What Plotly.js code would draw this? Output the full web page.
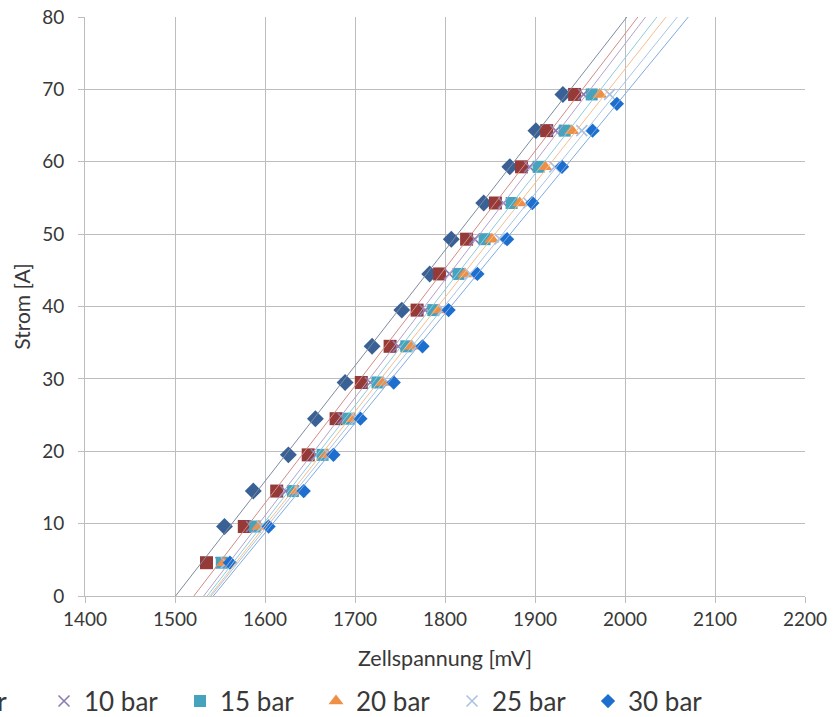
<!DOCTYPE html>
<html>
<head>
<meta charset="utf-8">
<script src="https://cdn.plot.ly/plotly-3.0.1.min.js"></script>
<style>
html,body{margin:0;padding:0;background:#fff;overflow:hidden;width:835px;height:717px;}
#chart{position:absolute;left:-300px;top:0;width:1135px;height:717px;}
</style>
</head>
<body>
<div id="chart"></div>
<script>
// Series names (legend)
const seriesNames = ['1 bar', '5 bar', '10 bar', '15 bar', '20 bar', '25 bar', '30 bar'];

// Current levels [A]
const strom_1bar  = [9.6, 14.5, 19.5, 24.5, 29.5, 34.5, 39.5, 44.5, 49.3, 54.3, 59.3, 64.3, 69.3];
const strom_5bar  = [4.6, 9.6, 14.5, 19.5, 24.5, 29.5, 34.5, 39.5, 44.5, 49.3, 54.3, 59.3, 64.3, 69.3];
const strom_10bar = [4.6, 9.6, 14.5, 19.5, 24.5, 29.5, 34.5, 39.5, 44.5, 49.3, 54.3, 59.3, 64.3, 69.3];
const strom_15bar = [4.6, 9.6, 14.5, 19.5, 24.5, 29.5, 34.5, 39.5, 44.5, 49.3, 54.3, 59.3, 64.3, 69.3];
const strom_20bar = [4.6, 9.6, 14.5, 19.5, 24.5, 29.5, 34.5, 39.5, 44.5, 49.3, 54.3, 59.3, 64.3, 69.3];
const strom_25bar = [4.6, 9.6, 14.5, 19.5, 24.5, 29.5, 34.5, 39.5, 44.5, 49.3, 54.3, 59.3, 64.3, 69.3];
const strom_30bar = [4.6, 9.6, 14.5, 19.5, 24.5, 29.5, 34.5, 39.5, 44.5, 49.3, 54.3, 59.3, 64.3, 68.0];

// Cell voltage [mV]
const u_1bar  = [1555, 1587, 1626, 1656, 1689, 1719, 1752, 1783, 1807, 1843, 1872, 1901, 1931];
const u_5bar  = [1535, 1577, 1613, 1648, 1679, 1707, 1739, 1769, 1794, 1824, 1856, 1885, 1913, 1944];
const u_10bar = [1551, 1585, 1623, 1657, 1687, 1717, 1748, 1778, 1805, 1833, 1865, 1894, 1923, 1954];
const u_15bar = [1552, 1589, 1631, 1664, 1693, 1725, 1757, 1787, 1815, 1844, 1874, 1904, 1933, 1963];
const u_20bar = [1554, 1593, 1635, 1669, 1698, 1731, 1763, 1793, 1822, 1852, 1883, 1911, 1941, 1972];
const u_25bar = [1557, 1597, 1639, 1672, 1702, 1737, 1769, 1798, 1828, 1861, 1893, 1922, 1952, 1983];
const u_30bar = [1561, 1604, 1643, 1676, 1706, 1743, 1775, 1804, 1836, 1869, 1897, 1930, 1964, 1991];

const xTicks = [1400, 1500, 1600, 1700, 1800, 1900, 2000, 2100, 2200];
const yTicks = [0, 10, 20, 30, 40, 50, 60, 70, 80];

const xs = [u_1bar, u_5bar, u_10bar, u_15bar, u_20bar, u_25bar, u_30bar];
const ys = [strom_1bar, strom_5bar, strom_10bar, strom_15bar, strom_20bar, strom_25bar, strom_30bar];

const markerStyles = [
  {symbol: 'diamond', size: 13, color: '#3A6195'},
  {symbol: 'square', size: 13, color: '#963A37'},
  {symbol: 'x-thin-open', size: 11, color: '#8C7BAE', line: {color: '#8C7BAE', width: 1.6}},
  {symbol: 'square', size: 12, color: '#46A3BE'},
  {symbol: 'triangle-up', size: 13, color: '#EE8F45'},
  {symbol: 'x-thin-open', size: 11, color: '#A9C2E2', line: {color: '#A9C2E2', width: 1.6}},
  {symbol: 'diamond', size: 11, color: '#1C6FCF'}
];
const trendColors = ['#7D8B9E', '#D18B89', '#B3A2CC', '#8FCBDB', '#F5BE8E', '#A9C3E3', '#7FAAE0'];

// Linear least squares y = m*x + c (trendline fitted to each series)
function fit(x, y) {
  const n = x.length;
  let sx = 0, sy = 0, sxx = 0, sxy = 0;
  for (let i = 0; i < n; i++) { sx += x[i]; sy += y[i]; sxx += x[i]*x[i]; sxy += x[i]*y[i]; }
  const m = (n*sxy - sx*sy) / (n*sxx - sx*sx);
  const c = (sy - m*sx) / n;
  return {m, c};
}

const traces = [];
for (let i = 0; i < seriesNames.length; i++) {
  const ms = markerStyles[i];
  const marker = {symbol: ms.symbol, size: ms.size, color: ms.color};
  if (ms.line) marker.line = ms.line;
  traces.push({
    x: xs[i], y: ys[i], name: seriesNames[i], mode: 'markers', type: 'scatter',
    marker: marker
  });
}
for (let i = 0; i < seriesNames.length; i++) {
  const f = fit(xs[i], ys[i]);
  const yEnds = [yTicks[0], yTicks[yTicks.length-1]];
  traces.push({
    x: yEnds.map(v => (v - f.c) / f.m), y: yEnds,
    mode: 'lines', type: 'scatter', showlegend: false, hoverinfo: 'skip',
    line: {color: trendColors[i], width: 1}
  });
}

const gridC = '#BDBDBD';
const layout = {
  width: 1135, height: 717,
  margin: {l: 385, r: 30, t: 17, b: 121, autoexpand: false},
  paper_bgcolor: '#ffffff', plot_bgcolor: '#ffffff',
  font: {family: 'Lato, "Open Sans", sans-serif', color: '#383838'},
  xaxis: {
    range: [1400, 2200], tickvals: xTicks, ticktext: xTicks.map(String),
    showgrid: true, gridcolor: gridC, gridwidth: 1, zeroline: false,
    showline: true, linecolor: gridC, linewidth: 1,
    ticks: 'outside', ticklen: 6, tickcolor: gridC,
    tickfont: {size: 19},
    title: {text: 'Zellspannung [mV]', font: {size: 21.5}, standoff: 22}
  },
  yaxis: {
    range: [0, 80], tickvals: yTicks, ticktext: yTicks.map(String),
    showgrid: true, gridcolor: gridC, gridwidth: 1, zeroline: false,
    showline: true, linecolor: gridC, linewidth: 1,
    ticks: 'outside', ticklen: 6, tickcolor: gridC,
    tickfont: {size: 19}, ticklabelstandoff: 10,
    title: {text: 'Strom [A]', font: {size: 21}, standoff: 5}
  },
  showlegend: true,
  legend: {
    orientation: 'h', x: -0.4347, xanchor: 'left', y: -0.141, yanchor: 'top',
    font: {size: 26}, entrywidth: 91, traceorder: 'normal',
    bgcolor: 'rgba(0,0,0,0)'
  }
};

Plotly.newPlot('chart', traces, layout, {displayModeBar: false, staticPlot: true});
</script>
</body>
</html>
